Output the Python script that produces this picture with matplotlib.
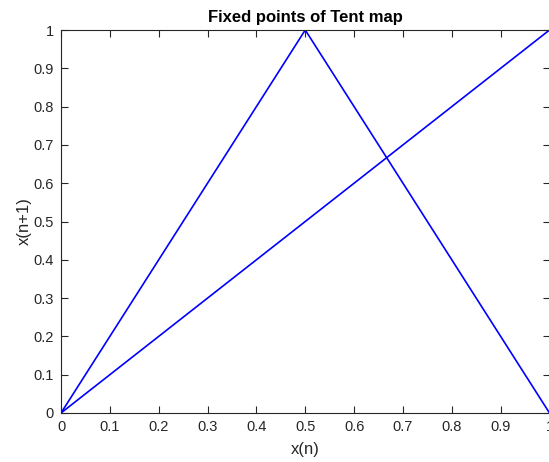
import matplotlib
matplotlib.use("Agg")
import matplotlib.pyplot as plt
import numpy as np

plt.rcParams['font.family'] = ['Liberation Sans', 'DejaVu Sans']

# Tent map and identity line
tent_x = [0.0, 0.5, 1.0]
tent_y = [0.0, 1.0, 0.0]
ident_x = [0.0, 1.0]
ident_y = [0.0, 1.0]
ticks = [0, 0.1, 0.2, 0.3, 0.4, 0.5, 0.6, 0.7, 0.8, 0.9, 1]
tick_labels = ['0', '0.1', '0.2', '0.3', '0.4', '0.5', '0.6', '0.7', '0.8', '0.9', '1']

fig = plt.figure(figsize=(5.49, 4.62), dpi=100)
W, H = 549, 462
left, right, top, bottom = 61, 549.5, 30, 413
ax = fig.add_axes([left / W, 1 - bottom / H, (right - left) / W, (bottom - top) / H])

ax.plot(tent_x, tent_y, color='#0000ff', lw=1.2)
ax.plot(ident_x, ident_y, color='#0000ff', lw=1.2)

ax.set_xlim(0, 1)
ax.set_ylim(0, 1)
ax.set_xticks(ticks)
ax.set_xticklabels(tick_labels)
ax.set_yticks(ticks)
ax.set_yticklabels(tick_labels)
ax.tick_params(direction='in', top=True, right=True, length=5, width=0.8,
               labelsize=10.5, colors='#262626', pad=5)
for s in ax.spines.values():
    s.set_color('#262626')
    s.set_linewidth(0.8)

ax.set_xlabel('x(n)', fontsize=12, color='#262626', labelpad=6)
ax.set_ylabel('x(n+1)', fontsize=12, color='#262626', labelpad=1)
ax.set_title('Fixed points of Tent map', fontsize=12, fontweight='bold', pad=6)

fig.savefig('out.png', dpi=100)
